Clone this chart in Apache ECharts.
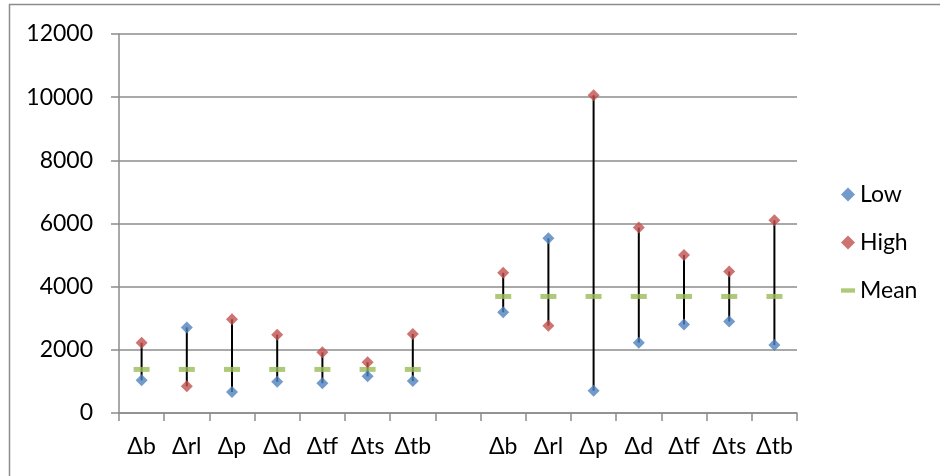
<!DOCTYPE html>
<html><head><meta charset="utf-8">
<script src="https://cdn.jsdelivr.net/npm/echarts@6/dist/echarts.min.js"></script>
<style>html,body{margin:0;padding:0;background:#fff;}#c{width:940px;height:476px;}</style>
</head><body><div id="c"></div>
<script>
const categories = ['Δb','Δrl','Δp','Δd','Δtf','Δts','Δtb','','Δb','Δrl','Δp','Δd','Δtf','Δts','Δtb'];
const lowValues  = [1035, 2710, 665, 990, 940, 1160, 1010, null, 3190, 5530, 705, 2225, 2805, 2900, 2150];
const highValues = [2225, 845, 2965, 2480, 1920, 1605, 2500, null, 4440, 2765, 10060, 5870, 5000, 4480, 6100];
const meanValues = [1380, 1380, 1380, 1380, 1380, 1380, 1380, null, 3690, 3690, 3690, 3690, 3690, 3690, 3690];
const yTicks = [0, 2000, 4000, 6000, 8000, 10000, 12000];

const FONT = 'Lato';
const chart = echarts.init(document.getElementById('c'), null, {renderer: 'canvas'});
const rangeData = categories.map((c, i) => [i, lowValues[i], highValues[i]]);

chart.setOption({
  animation: false,
  textStyle: {fontFamily: FONT},
  graphic: [{
    type: 'rect', silent: true, z: -1,
    shape: {x: 9.5, y: 4.5, width: 1000, height: 1000},
    style: {fill: 'none', stroke: '#8c8c8c', lineWidth: 1.5}
  }],
  grid: {left: 119, right: 143, top: 34, bottom: 63},
  legend: {
    orient: 'vertical', left: 836, top: 178,
    itemWidth: 14, itemHeight: 14, itemGap: 25,
    textStyle: {fontFamily: FONT, fontSize: 23, color: '#000'},
    data: [
      {name: 'Low', icon: 'diamond'},
      {name: 'High', icon: 'diamond'},
      {name: 'Mean', icon: 'path://M0,0 L16,0 L16,5 L0,5 Z'}
    ]
  },
  xAxis: {
    type: 'category', data: categories, boundaryGap: true,
    axisLine: {lineStyle: {color: '#8c8c8c', width: 1.5}},
    axisTick: {show: true, length: 8, alignWithLabel: false, interval: 0, lineStyle: {color: '#8c8c8c', width: 1.5}},
    axisLabel: {interval: 0, fontFamily: FONT, fontSize: 23, color: '#000', margin: 22},
    splitLine: {show: false}
  },
  yAxis: {
    type: 'value', min: 0, max: 12000, interval: 2000,
    axisLine: {show: true, lineStyle: {color: '#8c8c8c', width: 1.5}},
    axisTick: {show: true, length: 8, lineStyle: {color: '#8c8c8c', width: 1.5}},
    axisLabel: {fontFamily: FONT, fontSize: 23, color: '#000', margin: 26,
      formatter: v => yTicks.includes(v) ? String(v) : ''},
    splitLine: {lineStyle: {color: '#8c8c8c', width: 1.5}}
  },
  series: [
    {
      name: 'range', type: 'custom', z: 1, silent: true,
      data: rangeData,
      encode: {x: 0, y: [1, 2]},
      renderItem: function (params, api) {
        const lo = api.value(1), hi = api.value(2);
        if (lo == null || hi == null || isNaN(lo) || isNaN(hi)) return;
        const p1 = api.coord([api.value(0), lo]);
        const p2 = api.coord([api.value(0), hi]);
        return {type: 'line', shape: {x1: p1[0], y1: p1[1], x2: p2[0], y2: p2[1]},
          style: {stroke: '#000', lineWidth: 2}};
      }
    },
    {name: 'Low', type: 'scatter', z: 3, symbol: 'diamond', symbolSize: 12,
      itemStyle: {color: '#4F81BD'}, data: lowValues},
    {name: 'High', type: 'scatter', z: 3, symbol: 'diamond', symbolSize: 12,
      itemStyle: {color: '#C0504D'}, data: highValues},
    {name: 'Mean', type: 'scatter', z: 2, symbol: 'rect', symbolSize: [16, 5],
      itemStyle: {color: '#9BBB59'}, data: meanValues}
  ]
});
</script></body></html>
